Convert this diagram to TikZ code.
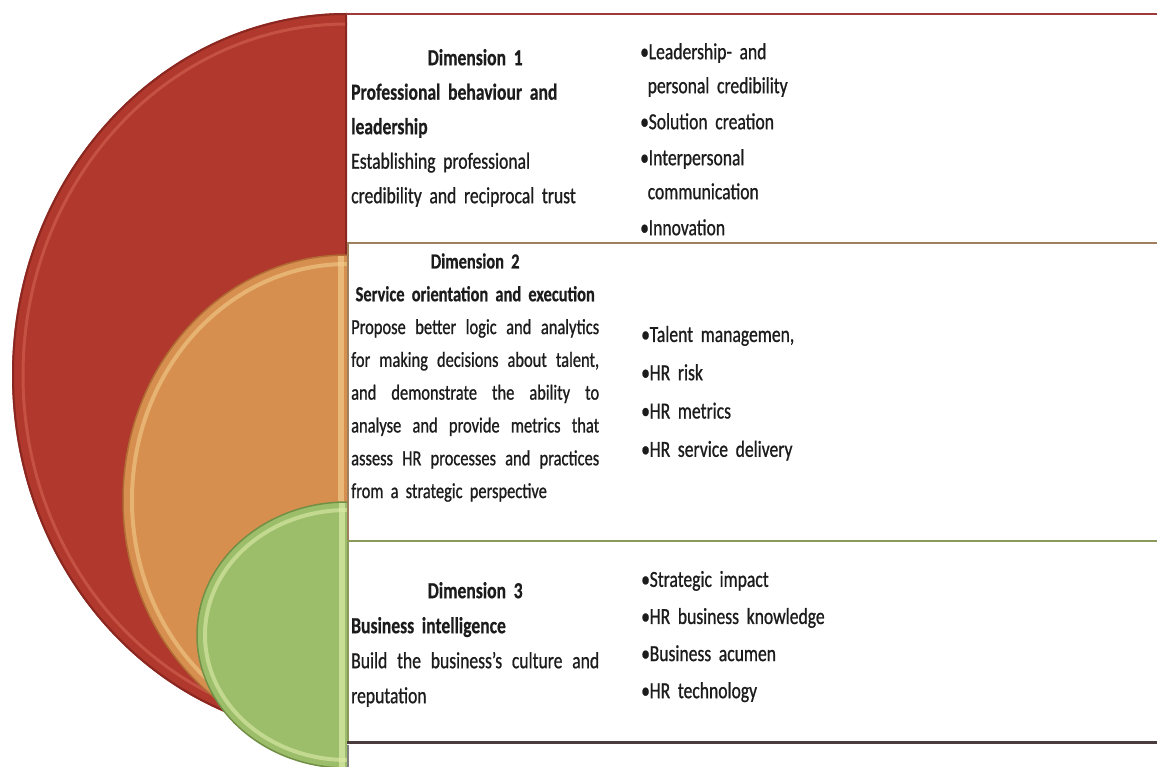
\documentclass[tikz,border=0pt]{standalone}
\usepackage{fontspec}
\setmainfont{Carlito}[FakeStretch=0.765, UprightFeatures={FakeBold=0.8}, BoldFeatures={FakeBold=0.5}]
\definecolor{redM}{HTML}{B0382C}
\definecolor{redD}{HTML}{8A2720}
\definecolor{redL}{HTML}{CF5D4C}
\definecolor{orgM}{HTML}{D68F4E}
\definecolor{orgD}{HTML}{B06C34}
\definecolor{orgL}{HTML}{F3CC8C}
\definecolor{grnM}{HTML}{9CBE6A}
\definecolor{grnD}{HTML}{728F46}
\definecolor{grnL}{HTML}{DCEBA8}
\definecolor{ink}{HTML}{1C1C1C}
\definecolor{lnR}{HTML}{9E3A3A}
\definecolor{lnO}{HTML}{9E805C}
\definecolor{lnG}{HTML}{8A9A5A}
\definecolor{lnK}{HTML}{4A3C3C}
\newcommand\bulitem{\makebox[8.5pt][l]{\textbullet}}
\newcommand\contind{\hspace*{7.5pt}}
\newcommand\jline[1]{{\spaceskip=\fontdimen2\font plus 1fil\makebox[\linewidth][s]{#1}}}
\newcommand\ctrline[1]{\makebox[\linewidth][c]{#1}}
\begin{document}
\begin{tikzpicture}[x=1pt,y=-1pt,
  col/.style={anchor=north west, inner sep=0pt, text=ink, align=left},
  leftcol/.style={col, text width=248pt},
  rightcol/.style={col, text width=320pt},
  rimline/.style={line width=3pt, opacity=.7},
  edgeline/.style={line width=2pt},
]
\useasboundingbox (0,0) rectangle (1157,767);
\fill[white] (0,0) rectangle (1157,767);

% ---- red half disc
\begin{scope}
  \clip (0,0) rectangle (347,767);
  \fill[redM] (347,375) ellipse [x radius=335, y radius=362];
  \draw[redL, rimline] (347,375) ellipse [x radius=324, y radius=351];
  \draw[redD, edgeline] (347,375) ellipse [x radius=334, y radius=361];
  \draw[redD, line width=2pt] (346,13) -- (346,260);
\end{scope}

% ---- orange half disc
\begin{scope}
  \clip (0,0) rectangle (347,767);
  \fill[orgM] (347,500) ellipse [x radius=224, y radius=245];
  \begin{scope}
    \clip (347,500) ellipse [x radius=224, y radius=245];
    \draw[orgL, line width=4pt, opacity=.6] (347,500) ellipse [x radius=215, y radius=236];
    \draw[orgL, line width=6pt, opacity=.7] (341,240) -- (341,767);
  \end{scope}
  \draw[orgD, line width=1.5pt] (347,500) ellipse [x radius=224, y radius=245];
\end{scope}

% ---- green half disc
\begin{scope}
  \clip (0,0) rectangle (347,767);
  \fill[grnM] (347,635) ellipse [x radius=150, y radius=133];
  \begin{scope}
    \clip (347,635) ellipse [x radius=150, y radius=133];
    \draw[grnL, line width=4pt, opacity=.6] (347,635) ellipse [x radius=142, y radius=125];
    \draw[grnL, line width=6pt, opacity=.7] (342,490) -- (342,767);
  \end{scope}
  \draw[grnD, line width=1.5pt] (347,635) ellipse [x radius=150, y radius=133];
\end{scope}

% ---- box borders
\draw[lnR, line width=2pt] (346,14) -- (1157,14);
\draw[lnO, line width=2pt] (347,243) -- (1157,243);
\draw[lnO, line width=1.5pt] (348,243) -- (348,541);
\draw[lnG, line width=2pt] (347,541) -- (1157,541);
\draw[lnG, line width=1.5pt] (348,541) -- (348,742);
\draw[lnK, line width=3pt] (347,742) -- (1157,742);
\draw[gray, line width=1.5pt] (348,745) -- (348,767);

% ---- box 1
\node[leftcol, font=\fontsize{23}{34.5}\selectfont] (d1l) at (351,40.85) {%
  {\bfseries\strut\ctrline{Dimension 1}\\
  Professional behaviour and\\ leadership\par}
  Establishing professional\\ credibility and reciprocal trust};
\node[rightcol, font=\fontsize{23}{34}\selectfont] (d1r) at (640,35.2) {%
  \strut\bulitem Leadership- and\\
  \contind personal credibility\\[2pt]
  \bulitem Solution creation\\[2pt]
  \bulitem Interpersonal\\
  \contind communication\\[2pt]
  \bulitem Innovation};

% ---- box 2
\node[leftcol, font=\fontsize{21.5}{32.8}\selectfont] (d2l) at (351,245.3) {%
  {\bfseries\strut\ctrline{Dimension 2}\\ \ctrline{Service orientation and execution}\par}
  \jline{Propose better logic and analytics}\\
  \jline{for making decisions about talent,}\\
  \jline{and demonstrate the ability to}\\
  \jline{analyse and provide metrics that}\\
  \jline{assess HR processes and practices}\\
  from a strategic perspective};
\node[rightcol, font=\fontsize{23}{38.3}\selectfont] (d2r) at (641,314.9) {%
  \strut\bulitem Talent managemen,\\
  \bulitem HR risk\\
  \bulitem HR metrics\\
  \bulitem HR service delivery};

% ---- box 3
\node[leftcol, font=\fontsize{23}{35}\selectfont] (d3l) at (351,573.5) {%
  {\bfseries\strut\ctrline{Dimension 3}\\
  Business intelligence\par}
  \jline{Build the business’s culture and}\\
  reputation};
\node[rightcol, font=\fontsize{23}{37.1}\selectfont] (d3r) at (641,560.7) {%
  \strut\bulitem Strategic impact\\
  \bulitem HR business knowledge\\
  \bulitem Business acumen\\
  \bulitem HR technology};
\end{tikzpicture}
\end{document}
